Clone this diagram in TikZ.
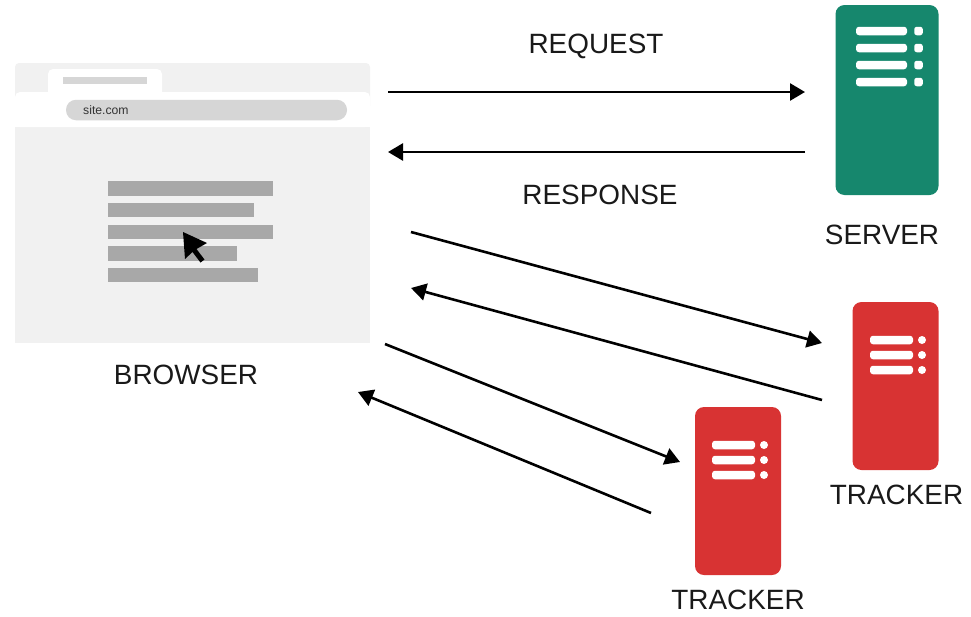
\documentclass[tikz,border=0pt]{standalone}
\usepackage{fontspec}
\setmainfont{Liberation Sans}
\usepackage{tikz}
\usetikzlibrary{arrows.meta, positioning}
\definecolor{windowgray}{HTML}{F1F1F1}
\definecolor{pillgray}{HTML}{D6D6D6}
\definecolor{linegray}{HTML}{A8A8A8}
\definecolor{servergreen}{HTML}{16876D}
\definecolor{trackerred}{HTML}{D83333}
\tikzset{
    tag/.style={inner sep=0pt, text depth=0pt, text=black!90, font=\fontsize{27.9}{30}\selectfont},
    arrow/.style={line width=2.6pt, black, -{Triangle[length=15pt, width=17pt]}},
    textline/.style={rectangle, fill=linegray, inner sep=0pt, minimum height=14.5pt, anchor=west},
    serverbox/.style={rectangle, rounded corners=9pt, fill=servergreen, inner sep=0pt, minimum width=103pt, minimum height=190pt},
    trackerbox/.style={rectangle, rounded corners=9pt, fill=trackerred, inner sep=0pt, minimum width=86pt, minimum height=168pt},
    slot/.style={rectangle, rounded corners=3pt, fill=white, inner sep=0pt, minimum height=8.5pt},
    slotdot/.style={rectangle, rounded corners=2.5pt, fill=white, inner sep=0pt, minimum height=8.5pt, minimum width=8.5pt},
    rounddot/.style={circle, fill=white, inner sep=0pt, minimum size=8pt}
}

\begin{document}
\begin{tikzpicture}[x=1pt, y=-1pt]
    \useasboundingbox (0,0) rectangle (971,616);

    % Browser window
    \fill[windowgray, rounded corners=4pt] (15,110) -- (15,63) -- (370,63) -- (370,110) -- cycle;
    \fill[windowgray] (15,100) rectangle (370,343);
    \fill[white, rounded corners=5pt] (48,100) -- (48,69) -- (162,69) -- (162,100) -- cycle;
    \fill[white, rounded corners=5pt] (15,127) -- (15,92) -- (370,92) -- (370,127) -- cycle;
    \fill[white] (15,105) rectangle (370,127);
    \node[rectangle, fill=pillgray, inner sep=0pt, minimum width=84pt, minimum height=7pt] (tabtitle) at (105,80.5) {};
    \node[rectangle, rounded corners=10pt, fill=pillgray, inner sep=0pt, minimum width=281pt, minimum height=20.5pt] (urlbar) at (206.5,110) {};
    \node[anchor=west, inner sep=0pt, text=black!80, font=\fontsize{12.2}{13}\selectfont] (urltext) at (83,110) {site.com};

    % Page lines
    \node[textline, minimum width=165pt] (L1) at (108,188.5) {};
    \node[textline, minimum width=146pt] (L2) at (108,210) {};
    \node[textline, minimum width=165pt] (L3) at (108,232) {};
    \node[textline, minimum width=129pt] (L4) at (108,253.5) {};
    \node[textline, minimum width=150pt] (L5) at (108,275) {};

    % Cursor
    \fill[black] (183,232) -- (207,243) -- (196.5,249) -- (204.5,259.5) -- (200.5,262.5) -- (192.5,252) -- (185,259) -- cycle;

    % Server
    \node[serverbox] (server) at (887,100) {};
    \node[slot, minimum width=51pt] (S1) at (881.5,31) {};
    \node[slot, minimum width=51pt] (S2) at (881.5,48) {};
    \node[slot, minimum width=51pt] (S3) at (881.5,65) {};
    \node[slot, minimum width=51pt] (S4) at (881.5,82) {};
    \node[slotdot] (SD1) at (918.5,31) {};
    \node[slotdot] (SD2) at (918.5,48) {};
    \node[slotdot] (SD3) at (918.5,65) {};
    \node[slotdot] (SD4) at (918.5,82) {};

    % Trackers
    \node[trackerbox] (tracker1) at (895.5,386) {};
    \node[slot, minimum width=43pt] (A1) at (891.5,340) {};
    \node[slot, minimum width=43pt] (A2) at (891.5,355) {};
    \node[slot, minimum width=43pt] (A3) at (891.5,370) {};
    \node[rounddot] (AD1) at (922,340) {};
    \node[rounddot] (AD2) at (922,355) {};
    \node[rounddot] (AD3) at (922,370) {};

    \node[trackerbox] (tracker2) at (738,491) {};
    \node[slot, minimum width=43pt] (B1) at (733.5,445) {};
    \node[slot, minimum width=43pt] (B2) at (733.5,460) {};
    \node[slot, minimum width=43pt] (B3) at (733.5,475) {};
    \node[rounddot] (BD1) at (764,445) {};
    \node[rounddot] (BD2) at (764,460) {};
    \node[rounddot] (BD3) at (764,475) {};

    % Labels
    \node[tag] (browserlabel) at (186,375) {BROWSER};
    \node[tag] (requestlabel) at (596,44) {REQUEST};
    \node[tag] (responselabel) at (600,195) {RESPONSE};
    \node[tag, below=30pt of server, xshift=-5pt] (serverlabel) {SERVER};
    \node[tag, below=15pt of tracker1, xshift=1pt] (tracker1label) {TRACKER};
    \node[tag, below=15pt of tracker2] (tracker2label) {TRACKER};

    % Arrow ends
    \coordinate (reqstart) at (388,92);
    \coordinate (reqend) at (805,92);
    \coordinate (resstart) at (805,152);
    \coordinate (resend) at (388,152);
    \coordinate (outA) at (411,232);
    \coordinate (inA) at (822,343);
    \coordinate (backA) at (822,400);
    \coordinate (retA) at (411,288);
    \coordinate (outB) at (385,344);
    \coordinate (inB) at (680,462);
    \coordinate (backB) at (651,513);
    \coordinate (retB) at (358,392);

    % Arrows
    \draw[arrow] (reqstart) -- (reqend);
    \draw[arrow] (resstart) -- (resend);
    \draw[arrow] (outA) -- (inA);
    \draw[arrow] (backA) -- (retA);
    \draw[arrow] (outB) -- (inB);
    \draw[arrow] (backB) -- (retB);

\end{tikzpicture}
\end{document}
